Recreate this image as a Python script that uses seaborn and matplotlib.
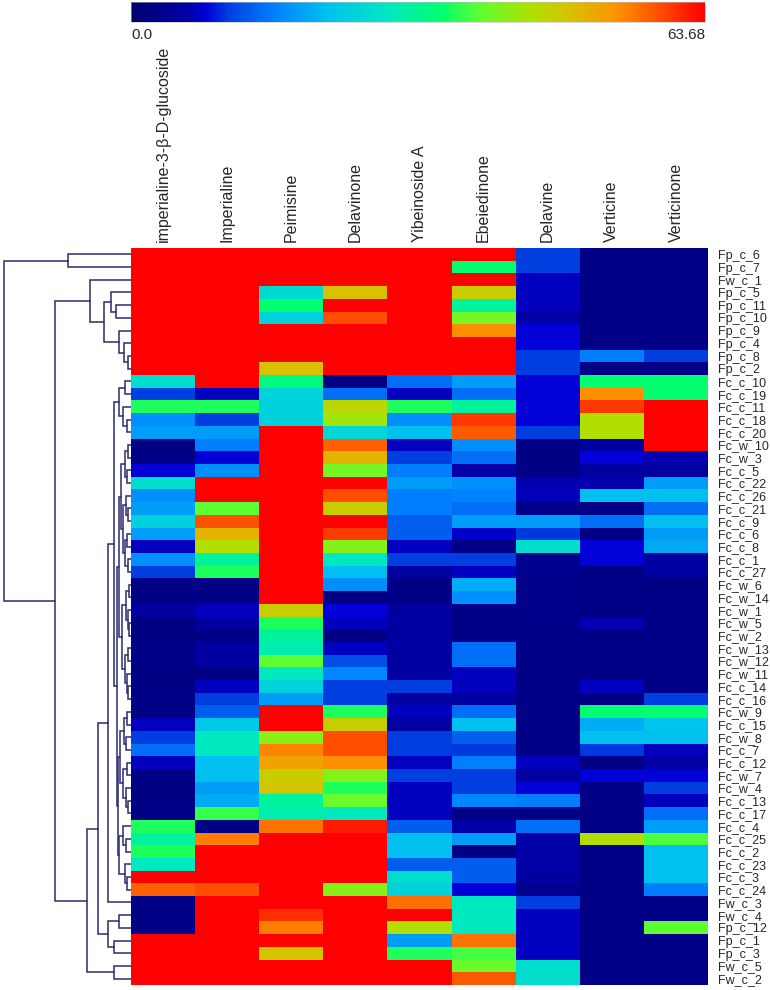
#!/usr/bin/env python3
"""Clustered heatmap of alkaloid content per Fritillaria sample."""

import matplotlib

matplotlib.use("Agg")
import matplotlib.pyplot as plt
import numpy as np
import pandas as pd
import seaborn as sns
from matplotlib.colors import LinearSegmentedColormap

sns.set_style("white")
plt.rcParams["font.family"] = ["Liberation Sans", "DejaVu Sans"]

VMAX = 63.68

COMPOUNDS = [
    "imperialine-3-β-D-glucoside", "Imperialine", "Peimisine", "Delavinone",
    "Yibeinoside A", "Ebeiedinone", "Delavine", "Verticine", "Verticinone",
]

SAMPLES = [
    "Fp_c_6", "Fp_c_7", "Fw_c_1", "Fp_c_5", "Fp_c_11", "Fp_c_10", "Fp_c_9", "Fp_c_4",
    "Fp_c_8", "Fp_c_2", "Fc_c_10", "Fc_c_19", "Fc_c_11", "Fc_c_18", "Fc_c_20",
    "Fc_w_10", "Fc_w_3", "Fc_c_5", "Fc_c_22", "Fc_c_26", "Fc_c_21", "Fc_c_9",
    "Fc_c_6", "Fc_c_8", "Fc_c_1", "Fc_c_27", "Fc_w_6", "Fc_w_14", "Fc_w_1",
    "Fc_w_5", "Fc_w_2", "Fc_w_13", "Fc_w_12", "Fc_w_11", "Fc_c_14", "Fc_c_16",
    "Fc_w_9", "Fc_c_15", "Fc_w_8", "Fc_c_7", "Fc_c_12", "Fc_w_7", "Fc_w_4",
    "Fc_c_13", "Fc_c_17", "Fc_c_4", "Fc_c_25", "Fc_c_2", "Fc_c_23", "Fc_c_3",
    "Fc_c_24", "Fw_c_3", "Fw_c_4", "Fp_c_12", "Fp_c_1", "Fp_c_3", "Fw_c_5", "Fw_c_2",
]

R = VMAX  # saturated cells

imperialine_glc = [
    R, R, R, R, R, R, R, R, R, R,
    26.7, 10.8, 35.7, 17.2, 18.5, 2.0, 2.5, 8.3, 26.7, 17.2,
    18.5, 24.8, 18.5, 7.3, 17.2, 10.8, 2.5, 2.5, 5.7, 2.5,
    2.0, 2.5, 2.5, 2.0, 2.5, 2.5, 2.5, 7.3, 10.8, 14.6,
    7.3, 2.5, 2.0, 2.5, 2.5, 35.7, 31.2, 35.7, 28.7, R,
    57.3, 2.5, 2.5, 2.5, R, R, R, R,
]
imperialine = [
    R, R, R, R, R, R, R, R, R, R,
    R, 7.3, 35.7, 10.8, 18.5, 15.9, 8.3, 17.2, R, R,
    38.8, 58.3, 50.3, 44.6, 31.2, 35.7, 2.5, 2.5, 7.3, 5.7,
    2.5, 5.7, 5.7, 2.5, 7.3, 10.8, 13.4, 23.0, 28.7, 28.7,
    21.7, 21.7, 18.5, 20.1, 37.0, 2.5, 55.4, R, R, R,
    58.6, R, R, R, R, R, R, R,
]
peimisine = [
    R, R, R, 26.1, 34.4, 24.8, R, R, R, 49.0,
    33.1, 24.8, 24.8, 24.8, R, R, R, R, R, R,
    R, R, R, R, R, R, R, R, 47.1, 35.7,
    31.2, 29.9, 38.8, 28.7, 24.8, 18.5, R, R, 42.0, 54.8,
    52.2, 47.1, 48.5, 31.2, 30.0, 56.0, R, R, R, R,
    R, R, 60.5, 55.4, R, 48.4, R, R,
]
delavinone = [
    R, R, R, 49.0, R, 58.6, R, R, R, R,
    2.5, 14.6, 45.8, 43.3, 25.5, 57.3, 50.3, 40.4, R, 58.6,
    47.1, R, 59.9, 41.4, 28.7, 21.7, 17.2, 2.5, 8.3, 7.3,
    2.5, 7.3, 12.1, 16.6, 10.8, 10.8, 35.7, 47.1, 58.6, 58.6,
    54.1, 41.4, 35.7, 39.5, 28.7, 61.8, R, R, R, R,
    41.4, R, R, R, R, R, R, R,
]
yibeinoside_a = [
    R, R, R, R, R, R, R, R, R, R,
    14.6, 7.3, 35.7, 17.2, 21.7, 7.3, 10.8, 15.9, 18.5, 15.9,
    15.9, 13.4, 13.4, 7.3, 10.8, 5.7, 2.5, 2.5, 5.7, 5.7,
    5.7, 5.7, 5.7, 5.7, 10.8, 5.7, 7.3, 6.2, 10.8, 10.8,
    7.3, 10.8, 7.3, 7.3, 7.3, 13.4, 21.7, 21.7, 13.4, 26.7,
    24.8, 56.4, R, 44.6, 18.5, 35.7, R, R,
]
ebeiedinone = [
    R, 34.4, R, 47.1, 31.2, 40.4, 54.1, R, R, R,
    18.5, 14.6, 31.2, 60.0, 57.9, 17.2, 14.6, 6.4, 17.2, 16.3,
    14.6, 18.5, 7.8, 2.5, 10.8, 7.3, 20.1, 17.2, 2.5, 2.5,
    2.5, 14.6, 14.6, 7.3, 7.3, 5.7, 14.6, 21.7, 13.4, 10.5,
    15.9, 10.8, 10.8, 16.6, 2.5, 6.4, 18.5, 2.5, 13.4, 13.4,
    8.3, 28.7, 28.7, 28.7, 56.0, 37.5, 39.5, 57.9,
]
delavine = [
    10.8, 10.8, 7.3, 7.3, 7.3, 6.2, 8.3, 8.3, 10.8, 10.8,
    8.3, 8.3, 8.3, 8.3, 10.8, 2.5, 2.0, 2.5, 6.8, 7.0,
    3.0, 18.5, 10.5, 26.7, 3.5, 3.5, 3.0, 3.0, 3.0, 3.0,
    2.5, 2.5, 2.5, 2.5, 2.5, 2.5, 2.5, 2.5, 2.5, 2.5,
    7.3, 5.7, 8.3, 15.9, 2.5, 14.6, 6.4, 6.4, 6.4, 5.7,
    3.5, 10.8, 7.3, 7.3, 7.3, 7.3, 26.7, 26.7,
]
verticine = [
    2.5, 2.5, 2.5, 2.5, 2.5, 2.5, 2.5, 2.5, 15.9, 2.5,
    34.4, 54.1, 60.0, 44.6, 44.6, 5.7, 8.3, 5.7, 6.8, 21.7,
    2.5, 14.6, 2.5, 8.3, 8.3, 2.5, 2.5, 2.5, 2.5, 6.8,
    2.5, 2.5, 2.5, 2.5, 7.3, 2.5, 34.4, 20.1, 21.7, 10.5,
    2.5, 8.3, 2.5, 2.5, 2.5, 2.5, 45.0, 2.5, 2.5, 2.5,
    2.5, 2.5, 2.5, 2.5, 2.5, 2.5, 2.5, 2.5,
]
verticinone = [
    2.5, 2.5, 2.5, 2.5, 2.5, 2.5, 2.5, 2.5, 10.8, 2.5,
    34.4, 34.4, R, R, R, R, 6.8, 5.7, 18.5, 21.7,
    14.6, 21.7, 18.5, 19.5, 5.7, 5.7, 2.5, 2.5, 2.5, 2.5,
    2.5, 2.5, 2.5, 2.5, 2.5, 10.8, 34.4, 22.5, 21.7, 7.3,
    6.2, 8.3, 10.8, 7.3, 14.6, 18.5, 38.0, 21.7, 21.7, 21.7,
    15.9, 2.5, 2.5, 38.8, 2.5, 2.5, 2.5, 2.5,
]

# Row dendrogram: (merge height, left, right), leaves are row numbers
G1 = (12, (6, 10, 11), (8, 12, (4, 13, 14)))
G2A = (10, (6, (3, 15, 16), (4, 17, 18)), (8, (5, 19, (3, 20, 21)), (6, (4, 22, 23), (3, 24, 25))))
G2B = (9, (5, (2, 26, 27), (3, 28, (2, 29, 30))), (6, (3, 31, 32), (4, 33, (3, 34, 35))))
G2C = (11, (7, (4, 36, 37), (5, 38, 39)), (8, (4, 40, 41), (5, 42, (3, 43, 44))))
G2D = (12, (8, 45, (5, 46, 47)), (6, 48, (4, 49, 50)))
TREE = (
    127,
    (63, 0, 1),
    (
        76,
        (41, 2, (27, (20, 3, (15, 4, 5)), (12, 6, (7, 7, (3, 8, 9))))),
        (
            44,
            (
                33,
                (23, (17, G1, (14, (12.5, G2A, G2B), (13, G2C, G2D))), 51),
                (23, (12, 52, 53), (17, 54, 55)),
            ),
            (17, 56, 57),
        ),
    ),
)

CMAP_STOPS = [0.0, 0.10, 0.13, 0.17, 0.25, 0.34, 0.45, 0.54, 0.61, 0.70, 0.77, 0.85, 0.92, 1.0]
CMAP_COLORS = [
    "#000070", "#0000a8", "#0000d8", "#0040e0", "#0080ff", "#00c0f0", "#00e8c0",
    "#00ff70", "#60ff30", "#b0e000", "#d8c000", "#ff9000", "#ff5000", "#ff0000",
]
LINE_COLOR = "#2b2b72"


def draw_tree(node, ax):
    if isinstance(node, int):
        return node + 0.5, 0.0
    h, left, right = node
    ya, ha = draw_tree(left, ax)
    yb, hb = draw_tree(right, ax)
    ax.plot([ha, h, h, hb], [ya, ya, yb, yb], color=LINE_COLOR, linewidth=1.1,
            solid_joinstyle="miter")
    return (ya + yb) / 2, h


def main():
    df = pd.DataFrame(
        np.column_stack([imperialine_glc, imperialine, peimisine, delavinone,
                         yibeinoside_a, ebeiedinone, delavine, verticine, verticinone]),
        index=SAMPLES,
        columns=COMPOUNDS,
    )
    cmap = LinearSegmentedColormap.from_list("heat", list(zip(CMAP_STOPS, CMAP_COLORS)))

    W, H = 770, 990
    fig = plt.figure(figsize=(W / 100, H / 100), dpi=100)
    ax = fig.add_axes([131 / W, 5 / H, 577 / W, 737 / H])
    cax = fig.add_axes([131 / W, 1 - 22 / H, 574 / W, 20 / H])
    dax = fig.add_axes([0, 5 / H, 131 / W, 737 / H])

    sns.heatmap(
        df,
        cmap=cmap,
        vmin=0,
        vmax=VMAX,
        ax=ax,
        cbar_ax=cax,
        cbar_kws={"orientation": "horizontal"},
        xticklabels=True,
        yticklabels=True,
    )

    ax.tick_params(axis="x", top=True, bottom=False, labeltop=True, labelbottom=False,
                   length=0, pad=4)
    ax.set_xticklabels(COMPOUNDS, rotation=90, ha="center", fontsize=11.5)
    ax.yaxis.tick_right()
    ax.tick_params(axis="y", labelright=True, labelleft=False, length=0, pad=7)
    ax.set_yticklabels(SAMPLES, rotation=0, fontsize=9)
    ax.set_xlabel("")
    ax.set_ylabel("")

    cax.set_xticks([0, VMAX])
    cax.set_xticklabels(["0.0", "63.68"], fontsize=11)
    labels = cax.get_xticklabels()
    labels[0].set_ha("left")
    labels[1].set_ha("right")
    cax.tick_params(axis="x", length=0, pad=4)
    cbar = ax.collections[0].colorbar
    cbar.outline.set_linewidth(0.4)
    cbar.outline.set_edgecolor("#bbbbbb")

    draw_tree(TREE, dax)
    dax.set_xlim(131, 0)
    dax.set_ylim(len(SAMPLES), 0)
    dax.axis("off")

    fig.savefig("out.png", dpi=100)
    plt.close(fig)


if __name__ == "__main__":
    main()
